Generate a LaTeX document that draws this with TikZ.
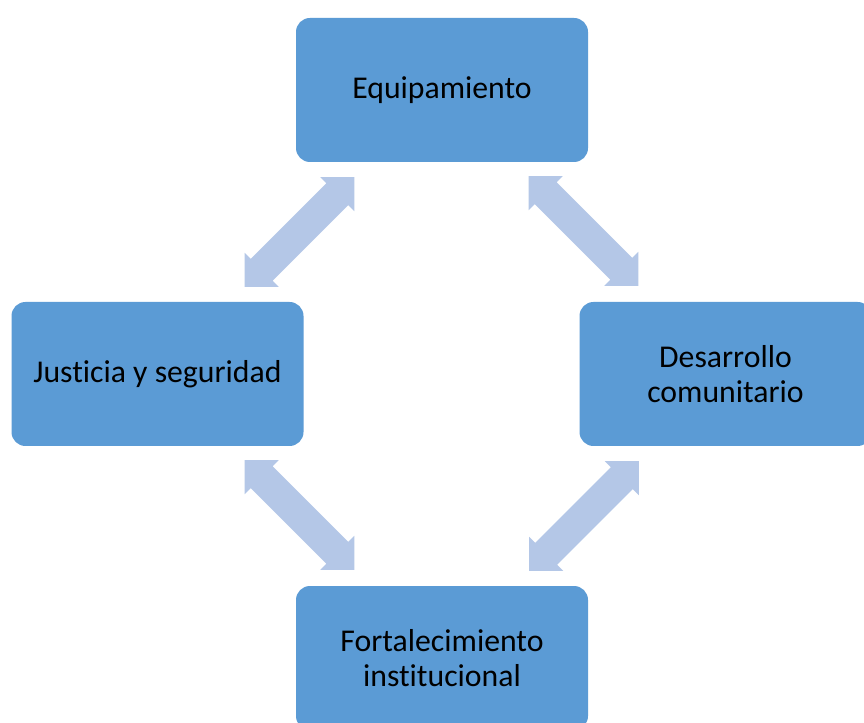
\documentclass[tikz,border=0pt]{standalone}
\usepackage{fontspec}
\setmainfont[RawFeature={-liga;-clig;-calt;-dlig}]{Carlito}
\definecolor{boxblue}{HTML}{5B9BD5}
\definecolor{arrowblue}{HTML}{B4C7E7}
\newcommand{\dblarr}[3]{%
  \begin{scope}[shift={(#1)},rotate=#2]
    \fill[arrowblue] (-77.5,0) -- (-53.5,24) -- (-53.5,15.5) -- (53.5,15.5) -- (53.5,24)
      -- (77.5,0) -- (53.5,-24) -- (53.5,-15.5) -- (-53.5,-15.5) -- (-53.5,-24) -- cycle;
    \coordinate (#3) at (0,0);
  \end{scope}}
\begin{document}
\begin{tikzpicture}[x=0.75pt,y=-0.75pt,
  stage/.style={fill=boxblue,draw=none,rounded corners=10.5pt,minimum width=219pt,
    minimum height=108pt,inner sep=0pt,align=center,text=black,
    font=\fontsize{23.8}{26.5}\selectfont}]
\useasboundingbox (0,0) rectangle (864,723);
\clip (0,0) rectangle (864,723);
\fill[white] (0,0) rectangle (864,723);
\node[stage] (equip) at (442,90) {Equipamiento};
\node[stage] (just) at (157.5,374) {Justicia y seguridad};
\node[stage] (desa) at (725.5,374) {Desarrollo\\comunitario};
\node[stage] (fort) at (442,658) {Fortalecimiento\\institucional};
\dblarr{299.5,232}{45}{a1}
\dblarr{583.5,231}{-45}{a2}
\dblarr{299.5,515}{-45}{a3}
\dblarr{584,516}{45}{a4}
\end{tikzpicture}
\end{document}
